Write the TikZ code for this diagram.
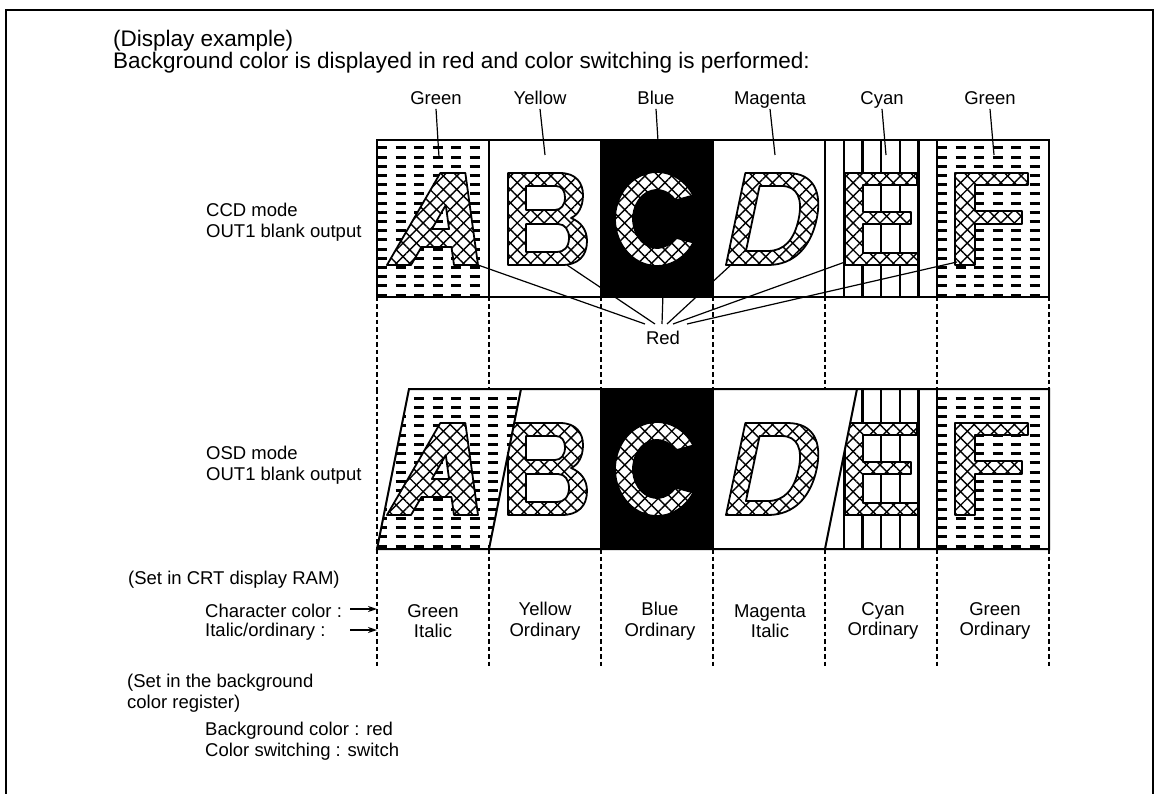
\documentclass[tikz,border=0pt]{standalone}
\usepackage{fontspec}
\setmainfont{Liberation Sans}
\usetikzlibrary{patterns.meta,arrows.meta}
\tikzset{
  lbl/.style={font=\fontsize{18.5}{20.5}\selectfont, inner sep=0pt},
  toplbl/.style={lbl, text height=13.5pt, text depth=4pt},
  hdr/.style={font=\fontsize{22.5}{24}\selectfont, inner sep=0pt, anchor=west},
  frame/.style={line width=2pt},
  stripline/.style={line width=2pt},
  guide/.style={line width=1.6pt, dash pattern=on 4.5pt off 3pt},
  greenrows/.style={line width=3pt, dash pattern=on 10pt off 8.5pt},
  cyanline/.style={line width=2.2pt},
  leader/.style={line width=1.2pt},
  pointer/.style={line width=1.3pt, -{Stealth[length=9pt,width=6pt]}},
  hatch/.style={even odd rule, line width=1.8pt, line join=round,
     preaction={fill=white, even odd rule},
     preaction={even odd rule, pattern={Lines[angle=45,distance=9.5pt,line width=1.4pt]}},
     preaction={even odd rule, pattern={Lines[angle=-45,distance=9.5pt,line width=1.4pt]}},
     draw},
  glyphA/.style={insert path={(387,0) -- (421,-92) -- (446,-92) -- (478,0) -- (454,0) -- (447.7,-18) -- (417.7,-18) -- (411,0) -- cycle (424.3,-36) -- (441.5,-36) -- (433.2,-59.9) -- cycle}},
  glyphB/.style={insert path={(508,0) -- (508,-92) -- (560,-92) .. controls (576,-92) and (583,-82) .. (583,-70) .. controls (583,-58) and (578,-50) .. (571,-47) .. controls (581,-43) and (587,-35) .. (587,-24) .. controls (587,-9) and (578,0) .. (562,0) -- cycle
     (526,-79) -- (556,-79) .. controls (562,-79) and (565,-74) .. (565,-67.5) .. controls (565,-60) and (561,-55) .. (555,-55) -- (526,-55) -- cycle
     (526,-41) -- (558,-41) .. controls (565,-41) and (569,-35) .. (569,-27) .. controls (569,-18) and (564,-13) .. (557,-13) -- (526,-13) -- cycle}},
  glyphC/.style={insert path={(693.37,-69.5) arc[start angle=-30, end angle=-330, x radius=42, y radius=47] -- (675.39,-27.36) arc[start angle=40, end angle=320, x radius=24, y radius=29] -- cycle}},
  glyphD/.style={insert path={(726,0) -- (726,-92) -- (768,-92) .. controls (795,-92) and (807,-72) .. (807,-46) .. controls (807,-18) and (794,0) .. (768,0) -- cycle
     (743,-79) -- (765,-79) .. controls (781,-79) and (789,-66) .. (789,-46) .. controls (789,-25) and (781,-14) .. (765,-14) -- (743,-14) -- cycle}},
  glyphE/.style={insert path={(845,0) -- (845,-92) -- (917,-92) -- (917,-80) -- (863,-80) -- (863,-53) -- (911,-53) -- (911,-41) -- (863,-41) -- (863,-12) -- (918,-12) -- (918,0) -- cycle}},
  glyphF/.style={insert path={(955,0) -- (955,-92) -- (1028,-92) -- (1028,-80) -- (975,-80) -- (975,-54) -- (1022,-54) -- (1022,-41) -- (975,-41) -- (975,0) -- cycle}}
}
\begin{document}
\begin{tikzpicture}[x=1pt,y=-1pt]
\useasboundingbox (0,0) rectangle (1159,794);
\draw[frame] (6,794) -- (6,10) -- (1153,10) -- (1153,794);

% header
\node[hdr] (title) at (113,41) {(Display example)};
\node[hdr] (subtitle) at (113,63) {Background color is displayed in red and color switching is performed:};

% ---------- CCD strip ----------
\begin{scope}
  \clip (377,140) rectangle (489,297);
  \foreach \k in {0,...,16} \draw[greenrows] (377,{148+9.2*\k}) -- (489,{148+9.2*\k});
\end{scope}
\begin{scope}
  \clip (937,140) rectangle (1049,297);
  \foreach \k in {0,...,16} \draw[greenrows] (937,{148+9.2*\k}) -- (1049,{148+9.2*\k});
\end{scope}
\foreach \x in {843.7,862.4,881.1,899.8,918.5} \draw[cyanline] (\x,140) -- (\x,297);

\begin{scope}[shift={(0,265)}]
  \path[hatch,glyphB];
  \path[hatch,glyphE];
  \path[hatch,glyphF];
\end{scope}
\begin{scope}[shift={(0,265)},xslant=0.21]
  \path[hatch,glyphA];
  \path[hatch,glyphD];
\end{scope}

% Red connectors
\node[lbl] (red) at (663,338) {Red};
\coordinate (lA) at (478,265);
\coordinate (lB) at (567,265);
\coordinate (lC) at (664,262);
\coordinate (lD) at (733,263);
\coordinate (lE) at (845,262);
\coordinate (lF) at (957,262);
\coordinate (rA) at (645,324);
\coordinate (rB) at (655,324);
\coordinate (rC) at (662,324);
\coordinate (rD) at (667,324);
\coordinate (rE) at (673,324);
\coordinate (rF) at (687,324);
\foreach \s in {A,B,C,D,E,F} \draw[leader] (l\s) -- (r\s);

\fill (601,140) rectangle (713,297);
\begin{scope}[shift={(0,265)}]
  \path[hatch,glyphC];
\end{scope}

\draw[stripline] (377,140) rectangle (1049,297);
\foreach \x in {489,601,713,825,937} \draw[stripline] (\x,140) -- (\x,297);

% colour labels
\node[toplbl] (tG) at (436,100) {Green};
\node[toplbl] (tY) at (540,100) {Yellow};
\node[toplbl] (tB) at (656,100) {Blue};
\node[toplbl] (tM) at (770,100) {Magenta};
\node[toplbl] (tC) at (882,100) {Cyan};
\node[toplbl] (tF) at (990,100) {Green};
\coordinate (pG) at (439,157);
\coordinate (pY) at (545,155);
\coordinate (pB) at (658,141);
\coordinate (pM) at (775,155);
\coordinate (pC) at (886,155);
\coordinate (pF) at (994,155);
\foreach \s in {G,Y,B,M,C,F} \draw[leader] (t\s.south) -- (p\s);

% ---------- OSD strip ----------
\begin{scope}
  \clip (409,389) -- (521,389) -- (489,549) -- (377,549) -- cycle;
  \foreach \k in {0,...,16} \draw[greenrows] (377,{398+9.25*\k}) -- (521,{398+9.25*\k});
\end{scope}
\begin{scope}
  \clip (937,389) rectangle (1049,549);
  \foreach \k in {0,...,16} \draw[greenrows] (937,{398+9.25*\k}) -- (1049,{398+9.25*\k});
\end{scope}
\begin{scope}
  \clip (857,389) -- (937,389) -- (937,549) -- (825,549) -- cycle;
  \foreach \x in {843.7,862.4,881.1,899.8,918.5} \draw[cyanline] (\x,389) -- (\x,549);
\end{scope}
\fill (601,389) rectangle (713,549);

\begin{scope}[shift={(0,515)}]
  \path[hatch,glyphC];
  \path[hatch,glyphF];
  \begin{scope}
    \clip (521,-126) -- (601,-126) -- (601,34) -- (489,34) -- cycle;
    \path[hatch,glyphB];
  \end{scope}
  \begin{scope}
    \clip (857,-126) -- (937,-126) -- (937,34) -- (825,34) -- cycle;
    \path[hatch,glyphE];
  \end{scope}
\end{scope}
\begin{scope}[shift={(0,515)},xslant=0.21]
  \path[hatch,glyphA];
  \path[hatch,glyphD];
\end{scope}

\draw[stripline] (409,389) -- (1049,389) -- (1049,549) -- (377,549) -- cycle;
\draw[stripline] (521,389) -- (489,549);
\draw[stripline] (857,389) -- (825,549);
\foreach \x in {601,713,937} \draw[stripline] (\x,389) -- (\x,549);

% guides
\foreach \x in {377,489,601,713,825,937,1049} {
  \draw[guide] (\x,297) -- (\x,389);
  \draw[guide] (\x,549) -- (\x,668);
}
\draw[guide] (377,389) -- (377,549);

% left labels
\node[lbl, anchor=west, align=left] (ccd) at (206,222) {CCD mode\\OUT1 blank output};
\node[lbl, anchor=west, align=left] (osd) at (206,465) {OSD mode\\OUT1 blank output};

% bottom settings
\node[lbl, anchor=west] (crt) at (128,580) {(Set in CRT display RAM)};
\node[lbl, anchor=west] (cc) at (205,611) {Character color :};
\node[lbl, anchor=west] (io) at (205,632) {Italic/ordinary :};
\coordinate (ccs) at (350,609);
\coordinate (cce) at (377,609);
\coordinate (ios) at (350,630);
\coordinate (ioe) at (377,630);
\draw[pointer] (ccs) -- (cce);
\draw[pointer] (ios) -- (ioe);

\node[lbl, align=center] (sA) at (433,621) {Green\\Italic};
\node[lbl, align=center] (sB) at (545,621) {Yellow\\Ordinary};
\node[lbl, align=center] (sC) at (660,621) {Blue\\Ordinary};
\node[lbl, align=center] (sD) at (770,621) {Magenta\\Italic};
\node[lbl, align=center] (sE) at (883,621) {Cyan\\Ordinary};
\node[lbl, align=center] (sF) at (995,621) {Green\\Ordinary};

\node[lbl, anchor=west, align=left] (bgr) at (127,693) {(Set in the background\\color register)};
\node[lbl, anchor=west, align=left] (bgv) at (205,741) {Background color : red\\Color switching : switch};
\end{tikzpicture}
\end{document}
